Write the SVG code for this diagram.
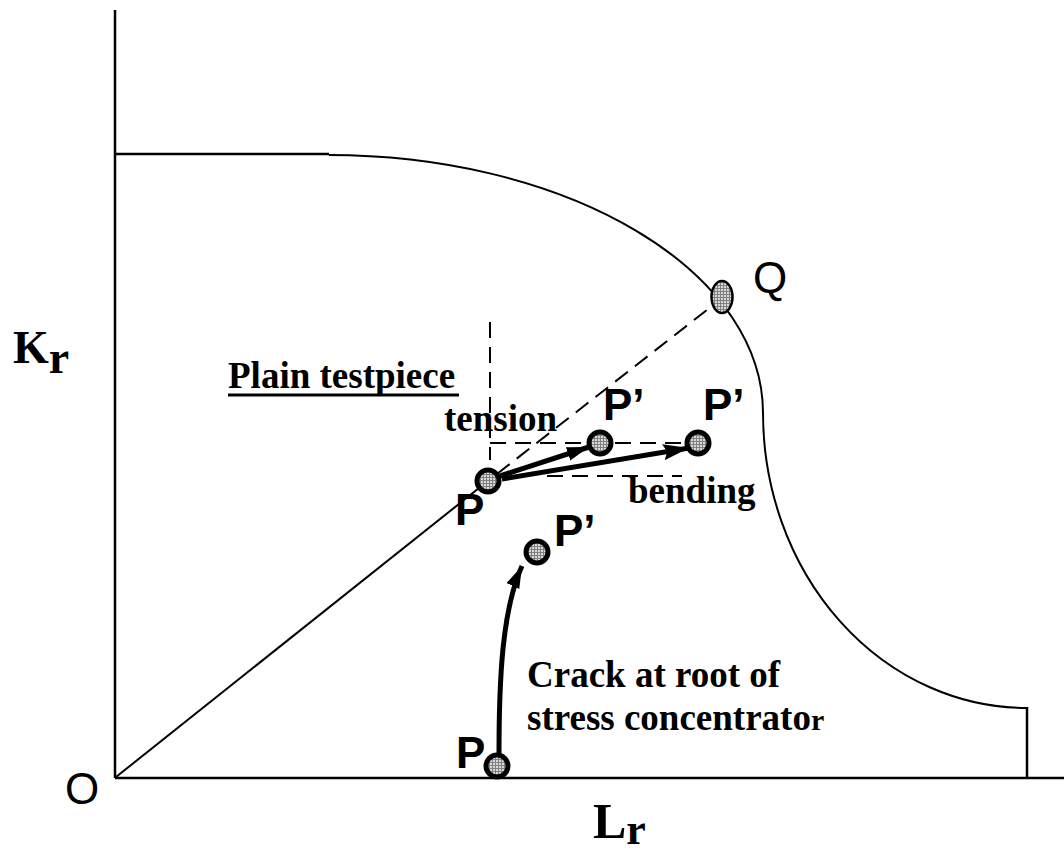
<svg xmlns="http://www.w3.org/2000/svg" width="1064" height="857" viewBox="0 0 1064 857">
<style>
.ax{stroke:#000;stroke-width:2.5;fill:none}
.cv{stroke:#000;stroke-width:2;fill:none}
.dash{stroke:#000;stroke-width:2;fill:none;stroke-dasharray:16 9}
.arr{stroke:#000;stroke-width:5;fill:none}
.pt{fill:url(#hatch);stroke:#000;stroke-width:5}
.lbl{font-family:"Liberation Serif",serif;font-weight:bold;font-size:37px;fill:#000}
.pl{font-family:"Liberation Sans",Arial,sans-serif;font-weight:bold;font-size:44px;fill:#000}
.rl{font-family:"Liberation Sans",Arial,sans-serif;font-size:44px;fill:#000}
.axl{font-family:"Liberation Serif",serif;font-weight:bold;fill:#000}
</style>
<defs>
<pattern id="hatch" width="3" height="3" patternUnits="userSpaceOnUse">
<rect width="3" height="3" fill="#d8d8d8"/>
<path d="M0 0.5H3M0.5 0V3" stroke="#808080" stroke-width="1"/>
</pattern>
<marker id="ah" markerUnits="userSpaceOnUse" markerWidth="28" markerHeight="18" refX="26" refY="8" orient="auto">
<path d="M0 0L26 8L0 16L4 8Z" fill="#000"/>
</marker>
<marker id="ah2" markerUnits="userSpaceOnUse" markerWidth="24" markerHeight="16" refX="22" refY="7" orient="auto">
<path d="M0 0L22 7L0 14Z" fill="#000"/>
</marker>
</defs>
<g id="axes">
<line class="ax" x1="115" y1="10" x2="115" y2="778"/>
<line class="ax" x1="115" y1="778" x2="1064" y2="778"/>
</g>
<g id="failure-curve">
<line class="ax" x1="115" y1="154" x2="329" y2="154"/>
<path class="cv" d="M329 155A434 258 0 0 1 763 413A264 295 0 0 0 1027 708"/>
<line class="ax" x1="1027" y1="707" x2="1027" y2="778"/>
</g>
<g id="connectors">
<line class="cv" x1="116" y1="777" x2="479" y2="488"/>
<line class="dash" x1="497" y1="474" x2="712" y2="306"/>
<line class="dash" x1="490" y1="322" x2="490" y2="460"/>
<line class="dash" x1="490" y1="443" x2="700" y2="443"/>
<line class="dash" x1="547" y1="476" x2="682" y2="476"/>
<line class="arr" x1="500" y1="476" x2="589" y2="447" marker-end="url(#ah2)"/>
<line class="arr" x1="502" y1="479" x2="689" y2="448" marker-end="url(#ah)"/>
<path class="arr" d="M499 754C499 680 502 610 522 566" marker-end="url(#ah2)"/>
</g>
<g id="node-P1"><circle class="pt" cx="488" cy="481" r="11"/><text class="pl" x="455" y="525">P</text></g>
<g id="node-P1a"><circle class="pt" cx="600" cy="443" r="11"/><text class="pl" x="603" y="420">P’</text></g>
<g id="node-P1b"><circle class="pt" cx="698" cy="443" r="11"/><text class="pl" x="703" y="420">P’</text></g>
<g id="node-P2a"><circle class="pt" cx="537" cy="552" r="11"/><text class="pl" x="554" y="546">P’</text></g>
<g id="node-P2"><circle class="pt" cx="497" cy="766" r="11"/><text class="pl" x="456" y="768">P</text></g>
<g id="node-Q"><ellipse cx="722" cy="297" rx="10.5" ry="16" fill="url(#hatch)" stroke="#000" stroke-width="2.5"/><text class="rl" x="753" y="293">Q</text></g>
<g id="node-O"><text class="rl" x="65" y="804" font-size="48">O</text></g>
<g id="labels">
<text class="lbl" x="228" y="388">Plain testpiece</text>
<line x1="228" y1="395" x2="459" y2="395" stroke="#000" stroke-width="3"/>
<text class="lbl" x="444" y="431">tension</text>
<text class="lbl" x="628" y="503">bending</text>
<text class="lbl" x="527" y="687">Crack at root of</text>
<text class="lbl" x="527" y="730">stress concentrato<tspan font-size="30">r</tspan></text>
<text class="axl" x="13" y="363" font-size="46">K<tspan font-size="46" dy="10">r</tspan></text>
<text class="axl" x="593" y="838" font-size="50">L<tspan font-size="44" dy="6">r</tspan></text>
</g>
</svg>
